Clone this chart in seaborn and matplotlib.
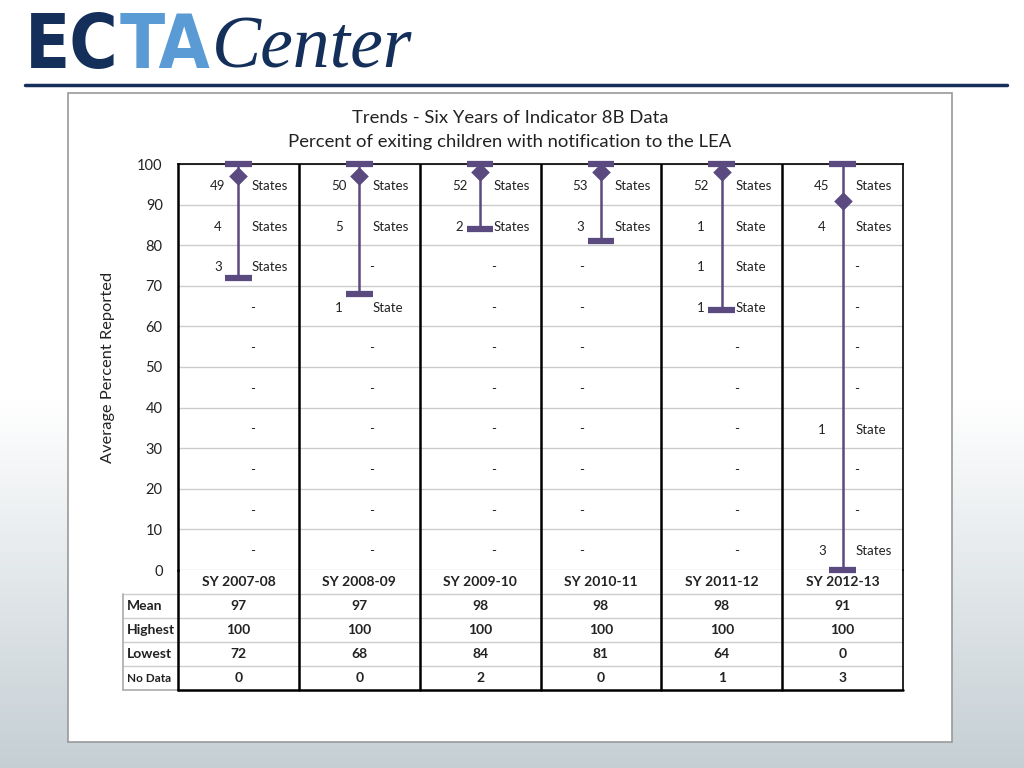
import numpy as np
import pandas as pd
import matplotlib
matplotlib.use("Agg")
import matplotlib.pyplot as plt
import seaborn as sns

# ---- data ----
years = ["SY 2007-08", "SY 2008-09", "SY 2009-10", "SY 2010-11", "SY 2011-12", "SY 2012-13"]
mean_pct = [97, 97, 98, 98, 98, 91]
highest_pct = [100, 100, 100, 100, 100, 100]
lowest_pct = [72, 68, 84, 81, 64, 0]
no_data = [0, 0, 2, 0, 1, 3]

# state counts per 10-point band, top band (90-100) first; None = "-"
band_counts = [
    [49, 4, 3, None, None, None, None, None, None, None],
    [50, 5, None, 1, None, None, None, None, None, None],
    [52, 2, None, None, None, None, None, None, None, None],
    [53, 3, None, None, None, None, None, None, None, None],
    [52, 1, 1, 1, None, None, None, None, None, None],
    [45, 4, None, None, None, None, 1, None, None, 3],
]
band_mid = [95, 85, 75, 65, 55, 45, 35, 25, 15, 5]
dash_offset = [0.12, 0.10, 0.11, -0.16, 0.12, 0.12]

row_names = ["Mean", "Highest", "Lowest", "No Data"]

title = "Trends - Six Years of Indicator 8B Data\nPercent of exiting children with notification to the LEA"

# ---- style ----
sns.set_style("white")
plt.rcParams["font.family"] = ["Lato", "DejaVu Sans"]

purple = "#5a4a80"
navy = "#14305a"
txt = "#222222"

df = pd.DataFrame({"year": years, "x": np.arange(len(years)), "mean": mean_pct,
                   "high": highest_pct, "low": lowest_pct})

fig = plt.figure(figsize=(10.24, 7.68), dpi=100)

# background gradient
bg = fig.add_axes([0, 0, 1, 1], zorder=-10)
t = np.clip((np.arange(768) - 400) / 368.0, 0, 1)[:, None]
bottom_col = np.array([0.77, 0.81, 0.83])
grad = (1 - t[..., None]) * np.ones(3) + t[..., None] * bottom_col
bg.imshow(grad, aspect="auto", extent=[0, 1, 0, 1], origin="upper")
bg.set_axis_off()

# logo: pieces placed one after another
renderer = fig.canvas.get_renderer()
logo_y = 1 - 68 / 768
x0 = 25 / 1024
pieces = [("EC", navy, dict(family="DejaVu Sans", fontstretch="condensed", fontweight="semibold", fontsize=53)),
          ("TA", "#5b9bd5", dict(family="DejaVu Sans", fontstretch="condensed", fontweight="semibold", fontsize=53)),
          ("Center", navy, dict(family="Liberation Serif", style="italic", fontsize=53))]
for s, col, kw in pieces:
    tx = fig.text(x0, logo_y, s, color=col, va="baseline", ha="left", **kw)
    bb = tx.get_window_extent(renderer)
    x0 = bb.x1 / 1024 + 1 / 1024
fig.add_artist(plt.Line2D([25 / 1024, 1007 / 1024], [1 - 85 / 768] * 2,
                          color=navy, lw=2.5))

# white chart box
fig.add_artist(plt.Rectangle((68 / 1024, 1 - 742 / 768), (952 - 68) / 1024, (742 - 93) / 768,
                             facecolor="white", edgecolor="#999999", lw=1.2, zorder=-5))

fig.text(510 / 1024, 1 - 130 / 768, title, ha="center", va="center",
         fontsize=13.3, linespacing=1.62, color=txt)

# ---- main plot ----
ax = fig.add_axes([178 / 1024, 1 - 570 / 768, 725 / 1024, 406 / 768])
ax.set_xlim(-0.5, 5.5)
ax.set_ylim(0, 100)
ax.set_yticks(range(0, 101, 10))
ax.set_xticks([])
ax.tick_params(axis="y", length=8, color="#aaaaaa", labelsize=10.5, pad=3, labelcolor=txt)
for yv in range(0, 101, 10):
    ax.axhline(yv, color="#cccccc", lw=1, zorder=0)
for s in ["left", "right", "top"]:
    ax.spines[s].set_visible(True)
    ax.spines[s].set_color("black")
ax.spines["left"].set_linewidth(1.8)
ax.spines["right"].set_linewidth(1.2)
ax.spines["top"].set_linewidth(1.2)
ax.spines["bottom"].set_visible(False)
for xv in np.arange(0.5, 5.0, 1.0):
    ax.axvline(xv, color="black", lw=1.8, zorder=1)

ax.vlines(df["x"], df["low"], df["high"], color=purple, lw=1.8, zorder=3)
ax.hlines(df["high"], df["x"] - 0.11, df["x"] + 0.11, color=purple, lw=4.5, zorder=3, clip_on=False)
ax.hlines(df["low"], df["x"] - 0.11, df["x"] + 0.11, color=purple, lw=4.5, zorder=3, clip_on=False)
sns.scatterplot(data=df, x="x", y="mean", marker="D", s=90, color=purple,
                edgecolor=purple, linewidth=0, zorder=4, ax=ax, legend=False, clip_on=False)
ax.set_xlabel("")
ax.set_ylabel("Average Percent Reported", fontsize=11.8, labelpad=16, color=txt)

for i, counts in enumerate(band_counts):
    for yv, c in zip(band_mid, counts):
        if c is None:
            ax.text(i + dash_offset[i], yv - 0.4, "-", ha="center", va="center", fontsize=9.5, color=txt)
        else:
            ax.text(i - 0.17, yv - 0.4, str(c), ha="center", va="center", fontsize=9.5, color=txt)
            ax.text(i + 0.11, yv - 0.4, "State" if c == 1 else "States", ha="left", va="center",
                    fontsize=9.5, color=txt)

# ---- table below ----
tb = fig.add_axes([178 / 1024, 1 - 690 / 768, 725 / 1024, 120 / 768])
tb.set_xlim(-0.5, 5.5)
tb.set_ylim(5, 0)
tb.set_axis_off()
left_x = -0.5 - 55 / 121
for r in range(1, 5):
    tb.plot([left_x, 5.5], [r, r], color="#cccccc", lw=1, clip_on=False)
tb.plot([left_x, -0.5], [5, 5], color="#aaaaaa", lw=1.2, clip_on=False)
tb.plot([left_x, left_x], [1, 5], color="#aaaaaa", lw=1.2, clip_on=False)
tb.plot([-0.5, 5.5], [5, 5], color="black", lw=1.8, clip_on=False)
for xv in np.arange(-0.5, 5.6, 1.0):
    tb.plot([xv, xv], [0, 5], color="black", lw=1.8 if xv < 5 else 1.2, clip_on=False)

for i, yr in enumerate(years):
    tb.text(i, 0.5, yr, ha="center", va="center", fontsize=10, fontweight="bold", color=txt)
    for r, vals in enumerate([mean_pct, highest_pct, lowest_pct, no_data]):
        tb.text(i, 1.5 + r, str(vals[i]), ha="center", va="center", fontsize=10,
                fontweight="bold", color=txt)
for r, name in enumerate(row_names):
    tb.text(left_x + 0.03, 1.5 + r, name, ha="left", va="center",
            fontsize=10 if name != "No Data" else 8.5, fontweight="bold", color=txt)

fig.savefig("out.png", dpi=100)
